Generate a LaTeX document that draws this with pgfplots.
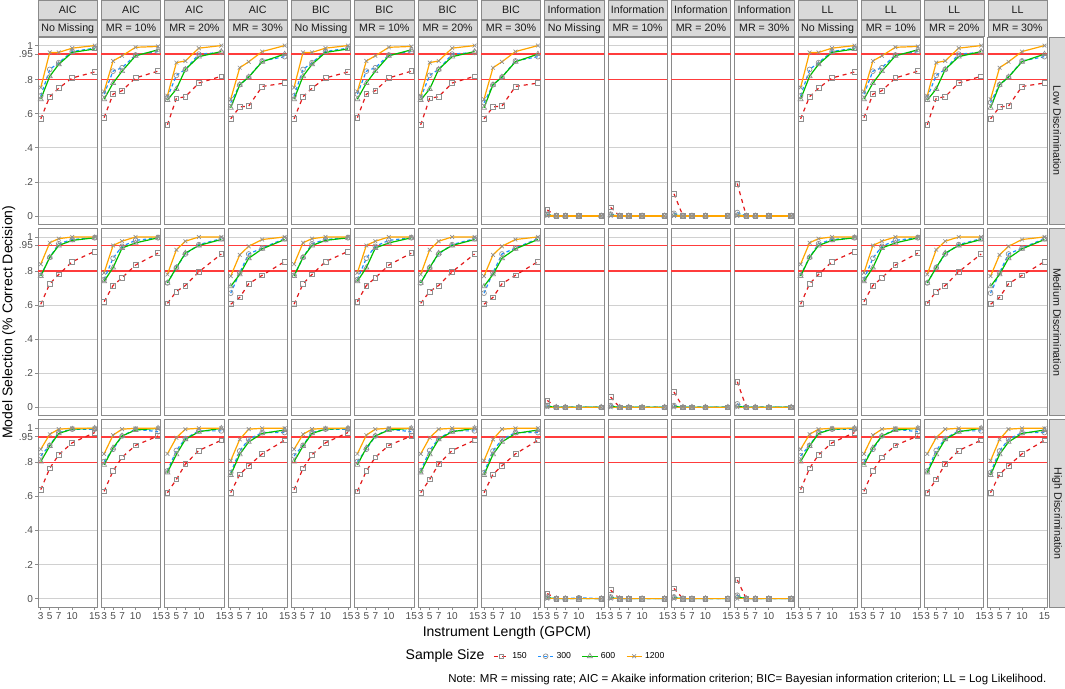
\documentclass[border=0pt]{standalone}
\usepackage{pgfplots}
\pgfplotsset{compat=1.18}
\usepackage{pgfplotstable}
\usepackage{fontspec}
\setmainfont{Liberation Sans}

\definecolor{c150}{HTML}{E31A1C}
\definecolor{c300}{HTML}{1E90FF}
\definecolor{c600}{HTML}{00BF00}
\definecolor{c1200}{HTML}{FFA500}
\definecolor{mk}{HTML}{8F8F8F}
\definecolor{border}{HTML}{8A8A8A}
\definecolor{stripfill}{HTML}{D9D9D9}
\definecolor{gridc}{HTML}{D0D0D0}
\definecolor{hl}{HTML}{FF3C3C}
\definecolor{tickc}{HTML}{4D4D4D}
\definecolor{textc}{HTML}{1A1A1A}

% criteria tables (AIC, BIC and LL share these values)
% a = 150, b = 300, c = 600, d = 1200
\pgfplotstableread{
x  a     b     c     d
3  0.570 0.705 0.685 0.754
5  0.700 0.860 0.820 0.960
7  0.750 0.900 0.890 0.960
10 0.810 0.965 0.960 0.985
15 0.845 0.985 0.980 1.000
}\tLA
\pgfplotstableread{
x  a     b     c     d
3  0.577 0.715 0.685 0.730
5  0.715 0.850 0.780 0.910
7  0.735 0.870 0.850 0.940
10 0.810 0.945 0.940 0.990
15 0.850 0.965 0.975 0.995
}\tLB
\pgfplotstableread{
x  a     b     c     d
3  0.535 0.695 0.680 0.705
5  0.690 0.825 0.745 0.900
7  0.700 0.860 0.860 0.910
10 0.780 0.950 0.935 0.985
15 0.820 0.960 0.965 1.000
}\tLC
\pgfplotstableread{
x  a     b     c     d
3  0.570 0.665 0.635 0.685
5  0.640 0.770 0.770 0.870
7  0.645 0.815 0.815 0.905
10 0.760 0.910 0.905 0.965
15 0.780 0.935 0.950 1.000
}\tLD
\pgfplotstableread{
x  a     b     c     d
3  0.605 0.775 0.770 0.840
5  0.725 0.880 0.880 0.966
7  0.780 0.960 0.950 0.990
10 0.855 0.985 0.980 1.000
15 0.915 0.995 0.995 1.000
}\tMA
\pgfplotstableread{
x  a     b     c     d
3  0.620 0.750 0.740 0.790
5  0.715 0.875 0.820 0.950
7  0.760 0.945 0.935 0.975
10 0.835 0.980 0.965 1.000
15 0.905 0.995 0.995 1.000
}\tMB
\pgfplotstableread{
x  a     b     c     d
3  0.610 0.730 0.730 0.780
5  0.680 0.820 0.820 0.925
7  0.715 0.900 0.905 0.975
10 0.795 0.955 0.950 1.000
15 0.900 0.990 0.985 1.000
}\tMC
\pgfplotstableread{
x  a     b     c     d
3  0.605 0.670 0.710 0.770
5  0.645 0.790 0.780 0.895
7  0.725 0.900 0.875 0.945
10 0.775 0.935 0.930 0.985
15 0.855 0.990 0.985 1.000
}\tMD
\pgfplotstableread{
x  a     b     c     d
3  0.640 0.838 0.805 0.877
5  0.765 0.900 0.896 0.965
7  0.845 0.975 0.970 0.995
10 0.915 0.995 0.995 1.000
15 0.975 0.995 1.000 1.000
}\tHA
\pgfplotstableread{
x  a     b     c     d
3  0.630 0.805 0.785 0.850
5  0.750 0.877 0.885 0.960
7  0.830 0.955 0.955 0.995
10 0.900 0.995 0.990 1.000
15 0.955 0.980 1.000 1.000
}\tHB
\pgfplotstableread{
x  a     b     c     d
3  0.622 0.750 0.740 0.850
5  0.700 0.870 0.847 0.945
7  0.790 0.940 0.935 0.995
10 0.870 0.985 0.980 1.000
15 0.930 0.985 1.000 1.000
}\tHC
\pgfplotstableread{
x  a     b     c     d
3  0.622 0.740 0.726 0.810
5  0.730 0.867 0.847 0.935
7  0.780 0.935 0.920 0.995
10 0.850 0.975 0.970 1.000
15 0.930 0.975 0.990 1.000
}\tHD

% information criterion tables
\pgfplotstableread{
x  a     b     c     d
3  0.035 0.010 0.005 0.000
5  0.000 0.000 0.000 0.000
7  0.000 0.000 0.000 0.000
10 0.000 0.000 0.000 0.000
15 0.000 0.000 0.000 0.000
}\iLA
\pgfplotstableread{
x  a     b     c     d
3  0.050 0.010 0.005 0.000
5  0.000 0.000 0.000 0.000
7  0.000 0.000 0.000 0.000
10 0.000 0.000 0.000 0.000
15 0.000 0.000 0.000 0.000
}\iLB
\pgfplotstableread{
x  a     b     c     d
3  0.130 0.015 0.005 0.000
5  0.000 0.000 0.000 0.000
7  0.000 0.000 0.000 0.000
10 0.000 0.000 0.000 0.000
15 0.000 0.000 0.000 0.000
}\iLC
\pgfplotstableread{
x  a     b     c     d
3  0.190 0.020 0.005 0.000
5  0.000 0.000 0.000 0.000
7  0.000 0.000 0.000 0.000
10 0.000 0.000 0.000 0.000
15 0.000 0.000 0.000 0.000
}\iLD
\pgfplotstableread{
x  a     b     c     d
3  0.040 0.010 0.005 0.000
5  0.000 0.000 0.000 0.000
7  0.000 0.000 0.000 0.000
10 0.000 0.000 0.000 0.000
15 0.000 0.000 0.000 0.000
}\iMA
\pgfplotstableread{
x  a     b     c     d
3  0.060 0.010 0.005 0.000
5  0.000 0.000 0.000 0.000
7  0.000 0.000 0.000 0.000
10 0.000 0.000 0.000 0.000
15 0.000 0.000 0.000 0.000
}\iMB
\pgfplotstableread{
x  a     b     c     d
3  0.090 0.010 0.005 0.000
5  0.000 0.000 0.000 0.000
7  0.000 0.000 0.000 0.000
10 0.000 0.000 0.000 0.000
15 0.000 0.000 0.000 0.000
}\iMC
\pgfplotstableread{
x  a     b     c     d
3  0.150 0.020 0.005 0.000
5  0.000 0.000 0.000 0.000
7  0.000 0.000 0.000 0.000
10 0.000 0.000 0.000 0.000
15 0.000 0.000 0.000 0.000
}\iMD
\pgfplotstableread{
x  a     b     c     d
3  0.030 0.010 0.005 0.000
5  0.000 0.000 0.000 0.000
7  0.000 0.000 0.000 0.000
10 0.000 0.005 0.000 0.000
15 0.000 0.000 0.000 0.000
}\iHA
\pgfplotstableread{
x  a     b     c     d
3  0.050 0.010 0.005 0.000
5  0.000 0.000 0.000 0.000
7  0.000 0.000 0.000 0.000
10 0.000 0.000 0.000 0.000
15 0.000 0.000 0.000 0.000
}\iHB
\pgfplotstableread{
x  a     b     c     d
3  0.060 0.010 0.005 0.000
5  0.000 0.000 0.000 0.000
7  0.000 0.000 0.000 0.000
10 0.000 0.000 0.000 0.000
15 0.000 0.000 0.000 0.000
}\iHC
\pgfplotstableread{
x  a     b     c     d
3  0.110 0.020 0.010 0.000
5  0.000 0.000 0.000 0.000
7  0.000 0.000 0.000 0.000
10 0.000 0.000 0.000 0.000
15 0.000 0.000 0.000 0.000
}\iHD

\pgfplotsset{
  s150/.style={c150, line width=0.9pt, dash pattern=on 3pt off 3pt, mark=square, mark size=1.8pt,
    mark options={solid, mk, line width=0.5pt}},
  s300/.style={c300, line width=0.9pt, dash pattern=on 2.5pt off 2pt, mark=o, mark size=1.8pt,
    mark options={solid, mk, line width=0.5pt}},
  s600/.style={c600, line width=0.9pt, mark=triangle, mark size=2.2pt,
    mark options={solid, mk, line width=0.5pt}},
  s1200/.style={c1200, line width=0.9pt, mark=x, mark size=2pt,
    mark options={solid, mk, line width=0.5pt}},
  panel/.style={
    width=44.4pt, height=140.25pt, scale only axis, anchor=north west,
    xmin=2.4, xmax=15.6, ymin=-0.05, ymax=1.05,
    xtick={3,5,7,10,15}, ytick={0,0.2,0.4,0.6,1},
    extra y ticks={0.8,0.95},
    ymajorgrids, major grid style={gridc, line width=0.5pt},
    extra y tick style={major grid style={hl, line width=1.15pt}},
    axis line style={border, line width=0.6pt},
    tick align=outside, major tick length=2.2pt,
    tick style={border, line width=0.5pt},
    ticklabel style={font=\fontsize{7.5}{8}\selectfont, text=tickc},
    xticklabel style={inner sep=1.5pt},
    yticklabel style={inner sep=1.5pt},
    xtick pos=bottom, ytick pos=left,
  },
  ysel/.code={\ifnum#1=0 \pgfplotsset{yticklabels={0,.2,.4,.6,1}, extra y tick labels={.8,.95}}%
    \else \pgfplotsset{yticklabels={}, extra y tick labels={}, ytick style={draw=none},
      extra y tick style={tick style={draw=none}}}\fi},
  xsel/.code={\ifnum#1=2 \pgfplotsset{xticklabels={3,5,7,10,15}}%
    \else \pgfplotsset{xticklabels={}, xtick style={draw=none}}\fi},
}

\begin{document}
\begin{tikzpicture}
\useasboundingbox (-28.5pt,27.75pt) rectangle (768.75pt,-487.5pt);
\foreach \rr/\rn/\rlab in {0/L/Low Discrimination,1/M/Medium Discrimination,2/H/High Discrimination}{
  \foreach \cc in {0,...,15}{
    \pgfmathtruncatemacro\crit{int(\cc/4)}
    \pgfmathtruncatemacro\mm{mod(\cc,4)}
    \edef\tabname{\ifnum\crit=2 i\else t\fi\rn\ifcase\mm A\or B\or C\or D\fi}
    \edef\doplots{%
      \noexpand\addplot[s150] table[x=x, y=a] {\expandafter\noexpand\csname\tabname\endcsname};
      \noexpand\addplot[s300] table[x=x, y=b] {\expandafter\noexpand\csname\tabname\endcsname};
      \noexpand\addplot[s600] table[x=x, y=c] {\expandafter\noexpand\csname\tabname\endcsname};
      \noexpand\addplot[s1200] table[x=x, y=d] {\expandafter\noexpand\csname\tabname\endcsname};
    }
    \begin{axis}[panel, name=ax, at={(\cc*47.4pt,-\rr*143.25pt)}, ysel=\cc, xsel=\rr]
      \doplots
    \end{axis}
    \ifnum\rr=0
      \draw[border, line width=0.5pt, fill=stripfill]
        ([yshift=0.4pt]ax.north west) rectangle ([yshift=12.8pt]ax.north east);
      \draw[border, line width=0.5pt, fill=stripfill]
        ([yshift=13.6pt]ax.north west) rectangle ([yshift=27.5pt]ax.north east);
      \node[text=textc, font=\fontsize{8}{9}\selectfont, inner sep=0pt]
        at ([yshift=6.6pt]ax.north) {\ifcase\mm No Missing\or MR = 10\%\or MR = 20\%\or MR = 30\%\fi};
      \node[text=textc, font=\fontsize{8}{9}\selectfont, inner sep=0pt]
        at ([yshift=20.5pt]ax.north) {\ifcase\crit AIC\or BIC\or Information\or LL\fi};
    \fi
    \ifnum\cc=15
      \draw[border, line width=0.5pt, fill=stripfill]
        ([xshift=1.5pt]ax.north east) rectangle ([xshift=13.5pt]ax.south east);
      \node[text=textc, font=\fontsize{8}{9}\selectfont, inner sep=0pt, rotate=-90]
        at ([xshift=7.5pt]ax.east) {\rlab};
    \fi
  }
}
\node[rotate=90, font=\fontsize{10.5}{12}\selectfont, text=black] at (-22pt,-213.4pt)
  {Model Selection (\% Correct Decision)};
\node[font=\fontsize{10.5}{12}\selectfont, text=black] at (351pt,-446pt)
  {Instrument Length (GPCM)};
\node[anchor=west, font=\fontsize{10.5}{12}\selectfont, text=black, inner sep=0pt] at (275pt,-463.5pt)
  {Sample Size};
\begin{axis}[hide axis, scale only axis, width=1pt, height=1pt, at={(341pt,-463.5pt)}, anchor=center,
  xmin=0, xmax=1, ymin=0, ymax=1,
  legend style={at={(0,0.5)}, anchor=west, draw=none, fill=none, legend columns=-1,
    font=\fontsize{6.5}{7}\selectfont, inner sep=0pt,
    /tikz/every even column/.append style={column sep=6pt}},
  legend image code/.code={\draw[mark repeat=2, mark phase=2] plot coordinates {(0cm,0cm) (0.2cm,0cm) (0.4cm,0cm)};}]
  \addlegendimage{s150}\addlegendentry{150}
  \addlegendimage{s300}\addlegendentry{300}
  \addlegendimage{s600}\addlegendentry{600}
  \addlegendimage{s1200}\addlegendentry{1200}
\end{axis}
\node[anchor=east, font=\fontsize{8.6}{10}\selectfont, text=black, inner sep=0pt] at (755pt,-481pt)
  {Note: MR = missing rate; AIC = Akaike information criterion; BIC= Bayesian information criterion; LL = Log Likelihood.};
\end{tikzpicture}
\end{document}
